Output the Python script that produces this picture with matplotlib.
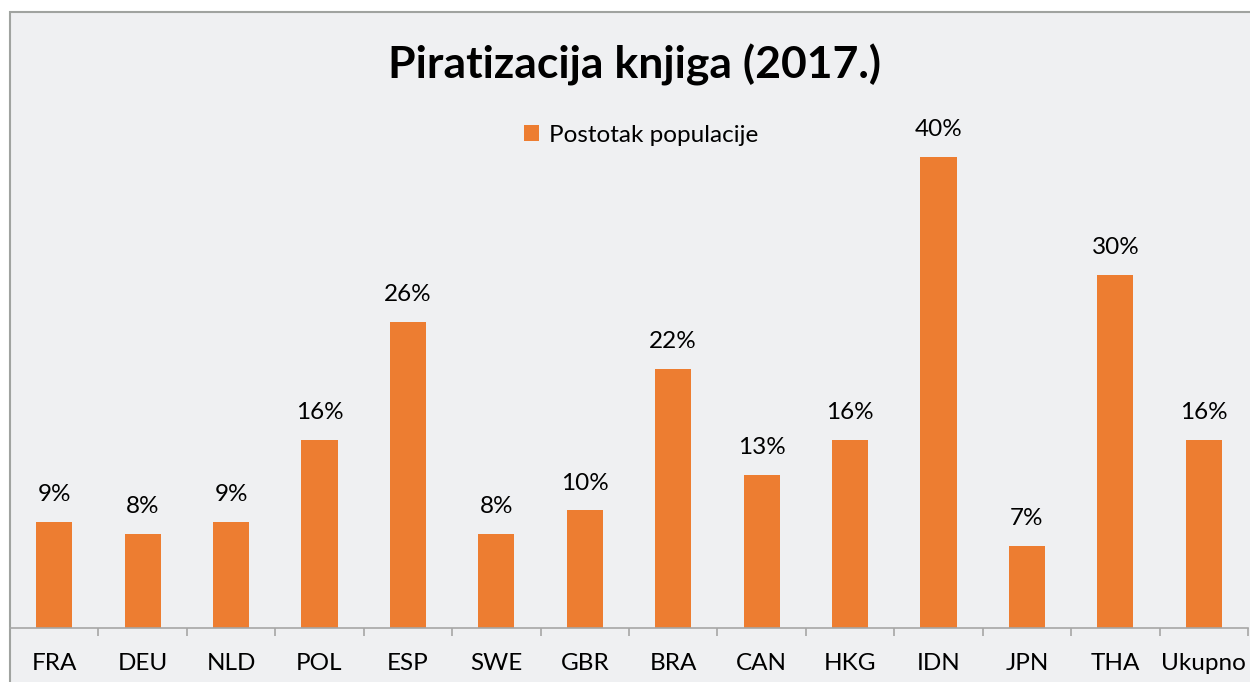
import matplotlib
matplotlib.use("Agg")
import matplotlib.pyplot as plt
from matplotlib.patches import Rectangle

# Data
countries = ["FRA", "DEU", "NLD", "POL", "ESP", "SWE", "GBR", "BRA", "CAN", "HKG", "IDN", "JPN", "THA", "Ukupno"]
share = [9, 8, 9, 16, 26, 8, 10, 22, 13, 16, 40, 7, 30, 16]
series_name = "Postotak populacije"
title = "Piratizacija knjiga (2017.)"

W, H = 1250, 682
plt.rcParams["font.family"] = ["Lato", "DejaVu Sans"]

fig = plt.figure(figsize=(W / 100, H / 100), dpi=100, facecolor="white")

# Chart area background with its border (only left and top are visible)
fig.patches.append(Rectangle((10 / W, -0.1), 1.2, 1.1 - 12 / H,
                             transform=fig.transFigure, facecolor="#EFF0F2",
                             edgecolor="#A0A3A0", linewidth=1.5, zorder=-10))

ax = fig.add_axes([10 / W, (H - 628) / H, (1248 - 10) / W, (628 - 12) / H])
ax.set_facecolor("none")

x = list(range(len(countries)))
ax.bar(x, share, width=0.41, color="#ED7D31", label=series_name, zorder=2)
for xi, v in zip(x, share):
    ax.annotate(f"{v}%", (xi, v), xytext=(0, 12), textcoords="offset points",
                ha="center", va="bottom", fontsize=17.5, color="#000000")

ax.set_xlim(-0.5, len(countries) - 0.5)
ax.set_ylim(0, (628 - 12) / 11.78)
ax.set_yticks([])
for s in ["top", "left", "right"]:
    ax.spines[s].set_visible(False)
ax.spines["bottom"].set_color("#A6A6A6")
ax.spines["bottom"].set_linewidth(1.2)

ax.set_xticks(x)
ax.set_xticklabels(countries, fontsize=17.5)
ax.tick_params(axis="x", which="major", length=0, pad=18)
ax.set_xticks([i + 0.5 for i in x], minor=True)
ax.tick_params(axis="x", which="minor", length=6, color="#A6A6A6", width=1.2)

ax.legend(loc="center", bbox_to_anchor=(641 / W, 1 - 135 / H), bbox_transform=fig.transFigure,
          frameon=False, fontsize=17.5, handlelength=0.6, handleheight=0.6, handletextpad=0.4)

fig.text(635 / W, 1 - 65 / H, title, ha="center", va="center",
         fontsize=32, fontweight="bold", color="#000000")

fig.savefig("out.png", dpi=100, facecolor="white")
